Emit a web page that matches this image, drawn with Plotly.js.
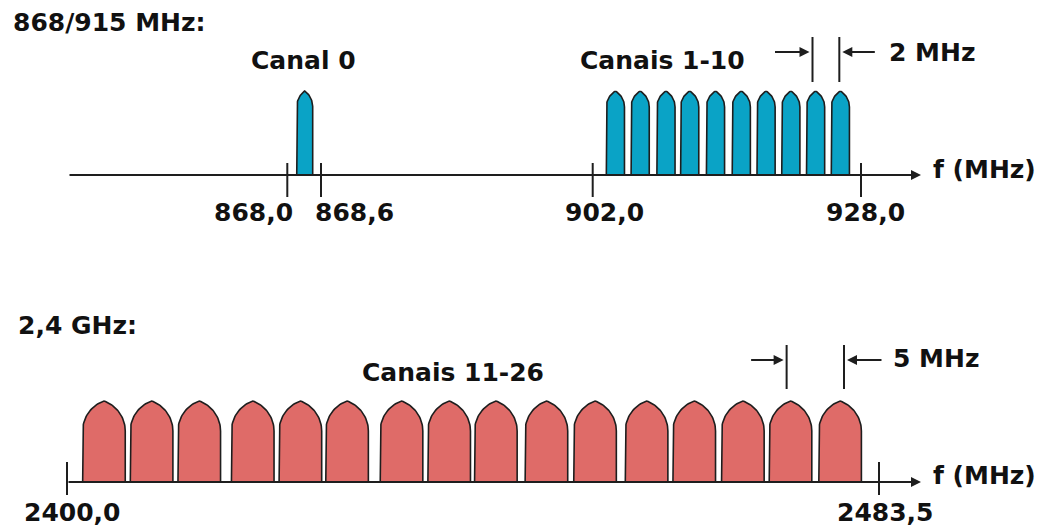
<!DOCTYPE html>
<html><head><meta charset="utf-8">
<script src="https://cdn.plot.ly/plotly-3.0.1.min.js"></script>
<style>html,body{margin:0;padding:0;background:#fff}</style>
</head><body><div id="chart" style="width:1037px;height:528px"></div>
<script>
// ---------- data (MHz) ----------
const band868Channels = [868.31];
const band915Channels = [904.2, 906.6, 909.1, 911.4, 913.9, 916.4, 918.8, 921.2, 923.6, 926.0];
const band2400Channels = [2403.8, 2408.7, 2413.6, 2419.1, 2424.0, 2428.8, 2434.4, 2439.3,
                          2444.1, 2449.3, 2454.3, 2459.6, 2464.5, 2469.5, 2474.4, 2479.5];
const band868Ticks = [868.0, 868.6];
const band868TickLabels = ['868,0', '868,6'];
const band915Ticks = [902.0, 928.0];
const band915TickLabels = ['902,0', '928,0'];
const band2400Ticks = [2400.0, 2483.5];
const band2400TickLabels = ['2400,0', '2483,5'];
const spacing915Marks = [923.3, 925.9];
const spacing2400Marks = [2474.0, 2479.9];
const titles = ['868/915 MHz:', '2,4 GHz:'];
const groupLabels = ['Canal 0', 'Canais 1-10', 'Canais 11-26'];
const spacingLabels = ['2 MHz', '5 MHz'];
const axisLabel = 'f (MHz)';

// ---------- styles ----------
const W = 1037, H = 528;
const FONT = {family: 'DejaVu Sans', size: 25, color: '#111', weight: 'bold'};
const INK = '#1e1e1e';
const BLUE = '#0aa3c6', RED = '#df6b68';
const px = v => v / W, py = v => 1 - v / H;

function archTrace(centers, hw, hs, ha, k, xa, ya, fill) {
  const rN = (1 + k * k) / 2, phiMax = Math.acos(1 - 1 / rN), n = 24;
  const xs = [], ys = [];
  centers.forEach(c => {
    const left = [], right = [];
    for (let i = 0; i <= n; i++) {
      const phi = phiMax * i / n;
      const u = rN * (1 - Math.cos(phi)), v = rN * Math.sin(phi) / k;
      left.push([c - hw + u * hw, hs + v * (ha - hs)]);
      right.push([c + hw - u * hw, hs + v * (ha - hs)]);
    }
    const pts = [[c - hw, 0]].concat(left, right.reverse(), [[c + hw, 0]], [[c - hw, 0]]);
    pts.forEach(p => { xs.push(p[0]); ys.push(p[1]); });
    xs.push(null); ys.push(null);
  });
  return {type: 'scatter', mode: 'lines', x: xs, y: ys, xaxis: xa, yaxis: ya,
          fill: 'toself', fillcolor: fill, line: {color: INK, width: 1.6},
          hoverinfo: 'skip', showlegend: false};
}

const data = [
  archTrace(band868Channels, 0.142, 68, 84, 1.8, 'x', 'y', BLUE),
  archTrace(band915Channels, 0.88, 68, 84, 1.8, 'x2', 'y', BLUE),
  archTrace(band2400Channels, 2.19, 51, 81, 1.42, 'x3', 'y2', RED)
];

const shapes = [];
const tickLine = (xref, yref, x, y0, y1) => shapes.push({type: 'line', xref, yref, x0: x, x1: x, y0, y1,
  line: {color: INK, width: 2}});
band868Ticks.forEach(t => tickLine('x', 'y', t, -22, 12));
band915Ticks.forEach(t => tickLine('x2', 'y', t, -22, 12));
band2400Ticks.forEach(t => tickLine('x3', 'y2', t, -13, 20));
spacing915Marks.forEach(t => tickLine('x2', 'y', t, 93, 138));
spacing2400Marks.forEach(t => tickLine('x3', 'y2', t, 93, 137));

const ann = [];
const txt = (o) => ann.push(Object.assign({showarrow: false, font: FONT, yanchor: 'middle'}, o));
const arrow = (o) => ann.push(Object.assign({text: '', showarrow: true, arrowhead: 2, arrowsize: 1,
  arrowwidth: 2, arrowcolor: INK, axref: 'pixel', ayref: 'pixel', ay: 0}, o));

// axis lines with arrow heads
arrow({xref: 'paper', yref: 'paper', x: px(921), y: py(175), ax: -853});
arrow({xref: 'paper', yref: 'paper', x: px(921), y: py(482), ax: -854});
// spacing arrows
arrow({xref: 'x2', yref: 'y', x: spacing915Marks[0], y: 123, ax: -39, standoff: 3});
arrow({xref: 'x2', yref: 'y', x: spacing915Marks[1], y: 123, ax: 37, standoff: 3});
arrow({xref: 'x3', yref: 'y2', x: spacing2400Marks[0], y: 122, ax: -37, standoff: 3});
arrow({xref: 'x3', yref: 'y2', x: spacing2400Marks[1], y: 122, ax: 39, standoff: 3});

// tick labels
const tickShift868 = [[8, 'right'], [-8, 'left']];
band868Ticks.forEach((t, i) => txt({xref: 'x', yref: 'y', x: t, y: -37.5, text: band868TickLabels[i],
  xanchor: tickShift868[i][1], xshift: tickShift868[i][0]}));
const tickShift915 = [12, 5];
band915Ticks.forEach((t, i) => txt({xref: 'x2', yref: 'y', x: t, y: -37.5, text: band915TickLabels[i],
  xanchor: 'center', xshift: tickShift915[i]}));
const tickShift2400 = [4.5, 6];
band2400Ticks.forEach((t, i) => txt({xref: 'x3', yref: 'y2', x: t, y: -30, text: band2400TickLabels[i],
  xanchor: 'center', xshift: tickShift2400[i]}));

// titles and labels
txt({xref: 'paper', yref: 'paper', x: px(11), y: py(22.5), text: titles[0], xanchor: 'left'});
txt({xref: 'paper', yref: 'paper', x: px(16), y: py(325), text: titles[1], xanchor: 'left'});
txt({xref: 'paper', yref: 'paper', x: px(303), y: py(61), text: groupLabels[0], xanchor: 'center'});
txt({xref: 'paper', yref: 'paper', x: px(662.5), y: py(61), text: groupLabels[1], xanchor: 'center'});
txt({xref: 'paper', yref: 'paper', x: px(453), y: py(372), text: groupLabels[2], xanchor: 'center'});
txt({xref: 'paper', yref: 'paper', x: px(887), y: py(52), text: spacingLabels[0], xanchor: 'left'});
txt({xref: 'paper', yref: 'paper', x: px(891), y: py(358), text: spacingLabels[1], xanchor: 'left'});
txt({xref: 'paper', yref: 'paper', x: px(931), y: py(169), text: axisLabel, xanchor: 'left'});
txt({xref: 'paper', yref: 'paper', x: px(931), y: py(475), text: axisLabel, xanchor: 'left'});

const hidden = {visible: false, fixedrange: true};
const layout = {
  width: W, height: H, margin: {l: 0, r: 0, t: 0, b: 0, pad: 0},
  paper_bgcolor: '#fff', plot_bgcolor: 'rgba(0,0,0,0)', showlegend: false,
  xaxis: Object.assign({domain: [260 / W, 350 / W], range: [867.5142, 869.1157], anchor: 'y'}, hidden),
  xaxis2: Object.assign({domain: [560 / W, 900 / W], range: [898.831, 931.780], anchor: 'y'}, hidden),
  xaxis3: Object.assign({domain: [40 / W, 920 / W], range: [2397.2236, 2487.716], anchor: 'y2'}, hidden),
  yaxis: Object.assign({domain: [0.5, 1], range: [-89, 175], anchor: 'x'}, hidden),
  yaxis2: Object.assign({domain: [0, 0.5], range: [-46, 218], anchor: 'x3'}, hidden),
  shapes: shapes, annotations: ann
};
Plotly.newPlot('chart', data, layout, {staticPlot: true, displayModeBar: false});
</script></body></html>
